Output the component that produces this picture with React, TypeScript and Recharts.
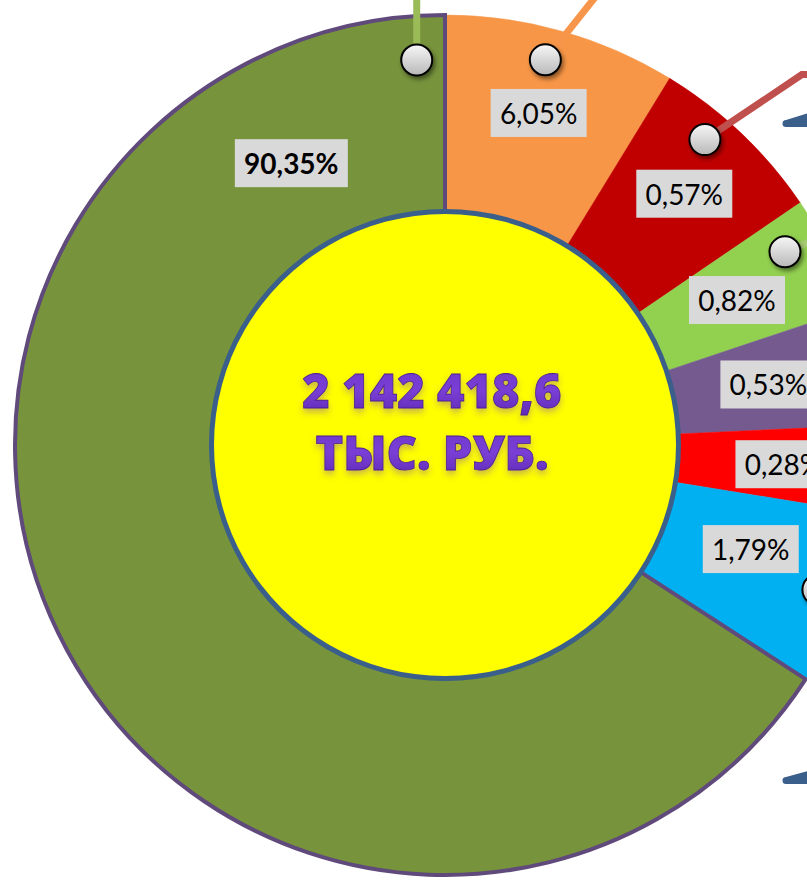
import React from 'react';
import { PieChart, Pie, Cell } from 'recharts';

// Percent labels printed on the slices (clockwise from 12 o'clock)
const sliceLabels = ['6,05%', '0,57%', '0,82%', '0,53%', '0,28%', '1,79%', '90,35%'];
// Shares as printed
const shares = [6.05, 0.57, 0.82, 0.53, 0.28, 1.79, 90.35];
// Sweep of each slice as drawn in the picture (degrees)
const drawnSweep = [31.5, 24.2, 15.8, 15.8, 11.9, 23.8, 237];
const sliceColors = ['#F79646', '#C00000', '#92D050', '#745A8F', '#FF0000', '#00B0F0', '#77933C'];
const totalLines = ['2 142 418,6', 'ТЫС. РУБ.'];

const ringData = sliceLabels.map((label, i) => ({ label, share: shares[i], sweep: drawnSweep[i] }));
const centerData = [{ v: 1 }];

const CX = 445;
const CY = 445;
const RAD = Math.PI / 180;

// label box layout: radius from centre, optional angle override, box width, bold
const LABEL_LAYOUT = [
  { r: 345, w: 96 },
  { r: 347, w: 96 },
  { r: 326, w: 96 },
  { r: 329, w: 96 },
  { r: 339, w: 96 },
  { r: 323, w: 96, angle: -18.8 },
  { r: 321, w: 113, angle: 118.6, bold: true },
];

// callout knobs: polar position, relative polyline for leader, colour
const CALLOUTS: Record<number, { angle: number; r: number; path: number[][]; color: string }> = {
  0: { angle: 75.4, r: 398, path: [[70, -88]], color: '#F7964A' },
  1: { angle: 49.6, r: 401, path: [[97, -65], [140, -65]], color: '#C0504D' },
  2: { angle: 29.6, r: 391, path: [[70, -28]], color: '#A6CB72' },
  5: { angle: -21.2, r: 400, path: [[70, 0]], color: '#4BACC6' },
  6: { angle: 94.2, r: 386, path: [[0, -90]], color: '#9BBB59' },
};

const polar = (cx: number, cy: number, r: number, a: number) => ({
  x: cx + r * Math.cos(a * RAD),
  y: cy - r * Math.sin(a * RAD),
});

const RingLabel = (props: any) => {
  const { cx, cy, midAngle, index } = props;
  const cfg = LABEL_LAYOUT[index];
  const ang = cfg.angle ?? midAngle;
  const p = polar(cx, cy, cfg.r, ang);
  const h = 48;
  const co = CALLOUTS[index];
  let callout = null;
  if (co) {
    const c = polar(cx, cy, co.r, co.angle);
    const pts = [[c.x, c.y], ...co.path.map(([dx, dy]) => [c.x + dx, c.y + dy])];
    callout = (
      <g>
        <polyline
          points={pts.map((q) => q.join(',')).join(' ')}
          fill="none"
          stroke={co.color}
          strokeWidth={7}
          strokeLinejoin="miter"
        />
        <circle cx={c.x} cy={c.y} r={15.5} fill="url(#knobGrad)" stroke="#000" strokeWidth={2} filter="url(#knobShadow)" />
      </g>
    );
  }
  return (
    <g>
      {callout}
      <rect x={p.x - cfg.w / 2} y={p.y - h / 2} width={cfg.w} height={h} fill="#D9D9D9" />
      <text
        x={p.x}
        y={p.y}
        textAnchor="middle"
        dominantBaseline="central"
        fontFamily="Lato, 'Open Sans', sans-serif"
        fontSize={28}
        fontWeight={cfg.bold ? 700 : 400}
        fill="#000"
      >
        {sliceLabels[index]}
      </text>
    </g>
  );
};

const CenterLabel = (props: any) => {
  const { cx, cy } = props;
  const tx = cx - 13;
  const baselines = [cy - 37, cy + 25];
  return (
    <g>
      {totalLines.map((line, i) => (
        <text
          key={i}
          x={tx}
          y={baselines[i]}
          textAnchor="middle"
          fontFamily="'Open Sans', 'Noto Sans', sans-serif"
          fontSize={47}
          fontWeight={800}
          fill="url(#purpleGrad)"
          stroke="#4A1E94"
          strokeWidth={0.8}
          filter="url(#textGlow)"
        >
          {line}
        </text>
      ))}
      {/* pointer wedges at right edge */}
      <path d={`M ${cx + 341} ${cy - 325} L ${cx + 370} ${cy - 334} L ${cx + 370} ${cy - 318} L ${cx + 341} ${cy - 318} A 3.5 3.5 0 0 1 ${cx + 341} ${cy - 325} Z`} fill="#3A5F8B" />
      <path d={`M ${cx + 341} ${cy + 332} L ${cx + 370} ${cy + 324} L ${cx + 370} ${cy + 339} L ${cx + 341} ${cy + 339} A 3.5 3.5 0 0 1 ${cx + 341} ${cy + 332} Z`} fill="#3A5F8B" />
    </g>
  );
};

export default function App() {
  return (
    <div style={{ position: 'fixed', left: 0, top: 0, width: 807, height: 880, overflow: 'hidden', background: '#fff' }}>
      <PieChart width={807} height={880} margin={{ top: 0, right: 0, bottom: 0, left: 0 }}>
        <defs>
          <linearGradient id="knobGrad" x1="0" y1="0" x2="0" y2="1">
            <stop offset="0%" stopColor="#F7F7F7" />
            <stop offset="100%" stopColor="#B8B8B8" />
          </linearGradient>
          <linearGradient id="purpleGrad" x1="0" y1="0" x2="0" y2="1">
            <stop offset="0%" stopColor="#6A34C4" />
            <stop offset="50%" stopColor="#7A3FD6" />
            <stop offset="100%" stopColor="#5A26AE" />
          </linearGradient>
          <filter id="knobShadow" x="-50%" y="-50%" width="200%" height="200%">
            <feDropShadow dx="2" dy="3" stdDeviation="2" floodColor="#000" floodOpacity="0.45" />
          </filter>
          <filter id="textGlow" x="-10%" y="-30%" width="120%" height="160%">
            <feDropShadow dx="0" dy="4" stdDeviation="3" floodColor="#6A34C4" floodOpacity="0.35" />
          </filter>
        </defs>
        <Pie
          data={ringData}
          dataKey="sweep"
          cx={CX}
          cy={CY}
          innerRadius={228}
          outerRadius={430}
          startAngle={90}
          endAngle={-270}
          paddingAngle={0}
          label={RingLabel}
          labelLine={false}
          isAnimationActive={false}
        >
          {ringData.map((d, i) => (
            <Cell
              key={i}
              fill={sliceColors[i]}
              stroke={i === 6 ? '#604A7B' : sliceColors[i]}
              strokeWidth={i === 6 ? 4 : 0.5}
            />
          ))}
        </Pie>
        <Pie
          data={centerData}
          dataKey="v"
          cx={CX}
          cy={CY}
          innerRadius={0}
          outerRadius={234}
          startAngle={90}
          endAngle={-270}
          fill="#FFFF00"
          stroke="none"
          label={CenterLabel}
          labelLine={false}
          isAnimationActive={false}
        />
        <Pie
          data={centerData}
          dataKey="v"
          cx={CX}
          cy={CY}
          innerRadius={231}
          outerRadius={236}
          startAngle={90}
          endAngle={-270}
          fill="#3A5F8B"
          stroke="none"
          isAnimationActive={false}
        />
      </PieChart>
    </div>
  );
}
